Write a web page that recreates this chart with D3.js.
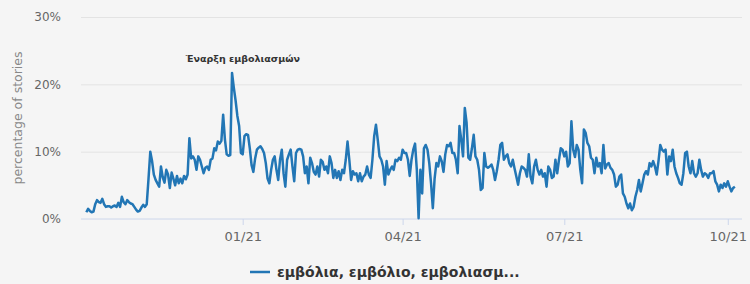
<!DOCTYPE html>
<html>
<head>
<meta charset="utf-8">
<script src="https://cdn.jsdelivr.net/npm/d3@7"></script>
<style>
  html, body { margin: 0; padding: 0; background: #f5f5f5; }
  svg { display: block; }
</style>
</head>
<body>
<div id="chart"></div>
<script>
// 1. DATA
const firstDay = "2020-10-05"; // one value per day from here
const dailyShare = [
  // Oct-Nov 2020
  1.0, 1.5, 1.2, 1.0, 1.1, 2.2, 2.8, 2.5, 2.4, 3.0,
  2.2, 1.8, 1.9, 1.9, 1.7, 1.9, 2.0, 1.8, 2.4, 1.8,
  3.3, 2.5, 2.2, 2.8, 2.5, 2.3, 2.2, 1.8, 1.4, 1.1,
  1.2, 1.7, 2.1, 1.8, 2.2, 6.0, 10.0, 8.6, 6.6, 5.8,
  5.3, 4.8, 7.8, 6.2, 5.4, 7.3, 6.6, 4.6, 6.9, 6.0,
  5.0, 6.4, 5.3, 6.0, 5.3, 6.4, 5.9, 6.6,
  // Dec 2020 - Jan 2021
  12.0, 9.0, 9.3, 8.8, 7.3, 9.3, 8.8, 7.8, 6.8, 7.6,
  7.8, 7.3, 8.8, 9.0, 10.5, 10.2, 11.5, 11.2, 11.6, 15.5,
  11.8, 9.6, 9.4, 9.5, 21.7, 19.5, 17.6, 15.3, 13.8, 9.8,
  9.6, 12.3, 12.6, 12.5, 10.5, 8.0, 7.0, 9.0, 10.3, 10.6,
  10.8, 10.4, 9.8, 8.3, 6.0, 5.3, 7.3, 8.8, 9.3, 7.3,
  5.8, 8.8, 10.3, 6.8, 4.8, 8.8, 9.6, 10.3, 7.8, 5.6,
  9.8,
  // Feb - Mar 2021
  10.3, 10.4, 10.3, 9.3, 6.8, 7.8, 5.3, 9.1, 8.3, 7.0,
  6.6, 7.8, 6.3, 8.8, 8.5, 7.3, 7.8, 6.8, 9.3, 8.3,
  6.1, 7.3, 6.1, 7.1, 5.8, 7.3, 6.8, 8.8, 11.5, 8.8,
  5.8, 7.1, 6.6, 6.8, 5.6, 6.8, 5.6, 6.3, 6.6, 7.8,
  6.6, 6.1, 8.8, 12.3, 14.0, 11.8, 9.3, 8.8, 7.8, 5.1,
  8.6, 6.6, 7.3, 7.8, 7.3, 8.8, 8.6, 9.1, 8.8, 10.3,
  9.8,
  // Apr - May 2021
  9.8, 8.8, 6.4, 8.8, 10.3, 11.2, 7.3, 0.1, 7.3, 3.8,
  10.5, 11.0, 10.3, 8.3, 5.3, 1.6, 6.0, 8.3, 7.8, 9.3,
  8.6, 7.0, 9.6, 11.0, 10.8, 11.3, 9.8, 9.8, 8.8, 6.8,
  13.8, 11.8, 9.3, 16.5, 14.3, 9.1, 8.8, 10.5, 12.5, 9.3,
  8.8, 7.3, 4.3, 4.6, 9.8, 7.8, 7.6, 7.8, 8.1, 7.3,
  5.8, 7.1, 8.8, 11.0, 11.3, 8.8, 9.3, 9.6, 8.3, 7.8,
  8.8,
  // Jun - Jul 2021
  7.5, 6.3, 5.1, 6.8, 7.8, 7.6, 7.3, 6.3, 9.6, 6.3,
  5.3, 7.8, 8.8, 7.3, 6.6, 7.3, 6.3, 6.8, 4.8, 7.8,
  7.3, 6.1, 6.3, 8.8, 6.8, 8.8, 10.5, 10.3, 9.3, 10.0,
  7.8, 8.3, 14.5, 10.3, 9.2, 11.0, 10.3, 7.3, 5.3, 13.3,
  12.8, 11.3, 10.8, 9.1, 8.8, 6.8, 9.1, 7.8, 8.3, 6.8,
  11.0, 7.5, 8.1, 8.3, 7.6, 7.3, 6.6, 4.8, 5.1, 6.3,
  6.6,
  // Aug - Oct 2021
  3.8, 3.3, 2.3, 1.6, 2.3, 1.3, 1.8, 3.3, 4.3, 5.8,
  4.1, 5.3, 6.6, 7.1, 6.6, 8.3, 7.8, 8.6, 7.8, 6.6,
  8.6, 11.0, 10.3, 10.0, 10.3, 6.6, 9.3, 8.6, 10.3, 7.8,
  6.8, 6.1, 5.3, 5.1, 6.8, 9.8, 10.0, 7.8, 6.8, 8.6,
  6.8, 6.3, 6.8, 8.8, 7.3, 6.3, 6.8, 6.6, 6.1, 6.8,
  6.8, 7.1, 5.6, 5.1, 4.1, 5.1, 4.6, 5.3, 4.8, 5.6,
  4.8, 4.1, 4.6, 4.8
];
const yTicks = [0, 10, 20, 30];
const xTicks = ["2021-01-01", "2021-04-01", "2021-07-01", "2021-10-01"];
const xDomain = ["2020-10-02", "2021-10-09"];
const seriesName = "εμβόλια, εμβόλιο, εμβολιασμ...";
const noteText = "Έναρξη εμβολιασμών";
const noteDate = "2021-01-01";
const yTitle = "percentage of stories";

// 2. SETUP
const width = 750;
const height = 284;
const margin = { top: 17, right: 8, bottom: 65, left: 81 };
const font = "'DejaVu Sans', sans-serif";

const parse = d3.utcParse("%Y-%m-%d");
const start = parse(firstDay);
const data = dailyShare.map((v, i) => ({ date: d3.utcDay.offset(start, i), value: v }));

const svg = d3.select("#chart")
    .append("svg")
    .attr("width", width)
    .attr("height", height)
    .attr("viewBox", [0, 0, width, height]);

svg.append("rect")
    .attr("width", width)
    .attr("height", height)
    .attr("fill", "#f5f5f5");

// --- SCALES ---
const x = d3.scaleUtc()
    .domain(xDomain.map(parse))
    .range([margin.left, width - margin.right]);

const y = d3.scaleLinear()
    .domain([0, 30])
    .range([height - margin.bottom, margin.top]);

// --- GRID LINES ---
svg.append("g")
    .attr("transform", `translate(${margin.left}, 0)`)
    .call(d3.axisLeft(y)
        .tickValues(yTicks.slice(1))
        .tickSize(-(width - margin.left - margin.right))
        .tickFormat(""))
    .call(g => g.select(".domain").remove())
    .call(g => g.selectAll("line").attr("stroke", "#e3e3e3"));

// Y labels
svg.append("g")
    .attr("transform", `translate(${margin.left - 17}, 0)`)
    .call(d3.axisLeft(y).tickValues(yTicks).tickSize(0).tickFormat(d => d + "%"))
    .call(g => g.select(".domain").remove())
    .call(g => g.selectAll("text")
        .attr("fill", "#666")
        .style("font-family", font)
        .style("font-size", "12px"));

svg.append("text")
    .attr("transform", `translate(22, ${(margin.top + height - margin.bottom) / 2}) rotate(-90)`)
    .attr("text-anchor", "middle")
    .attr("fill", "#888")
    .style("font-family", font)
    .style("font-size", "12.5px")
    .text(yTitle);

// X axis
svg.append("g")
    .attr("transform", `translate(0, ${height - margin.bottom})`)
    .call(d3.axisBottom(x)
        .tickValues(xTicks.map(parse))
        .tickSize(6)
        .tickPadding(7)
        .tickFormat(d3.utcFormat("%m/%y")))
    .call(g => g.select(".domain").attr("stroke", "#ccd6eb").attr("d", `M${margin.left},0H${width - margin.right}`))
    .call(g => g.selectAll("line").attr("stroke", "#ccd6eb"))
    .call(g => g.selectAll("text")
        .attr("fill", "#666")
        .style("font-family", font)
        .style("font-size", "13px"));

// --- LINE ---
const line = d3.line()
    .x(d => x(d.date))
    .y(d => y(d.value));

svg.append("path")
    .datum(data)
    .attr("fill", "none")
    .attr("stroke", "#2276b5")
    .attr("stroke-width", 2.5)
    .attr("stroke-linejoin", "round")
    .attr("d", line);

// annotation
svg.append("text")
    .attr("x", x(parse(noteDate)))
    .attr("y", 62)
    .attr("text-anchor", "middle")
    .attr("fill", "#333")
    .style("font-family", font)
    .style("font-size", "9.5px")
    .style("font-weight", "bold")
    .text(noteText);

// --- LEGEND ---
const legend = svg.append("g")
    .attr("transform", "translate(250, 272)");

legend.append("line")
    .attr("x1", 0)
    .attr("x2", 20)
    .attr("stroke", "#2276b5")
    .attr("stroke-width", 2.5);

legend.append("text")
    .attr("x", 27)
    .attr("y", 5)
    .attr("fill", "#333")
    .style("font-family", font)
    .style("font-size", "14px")
    .style("font-weight", "bold")
    .text(seriesName);
</script>
</body>
</html>
